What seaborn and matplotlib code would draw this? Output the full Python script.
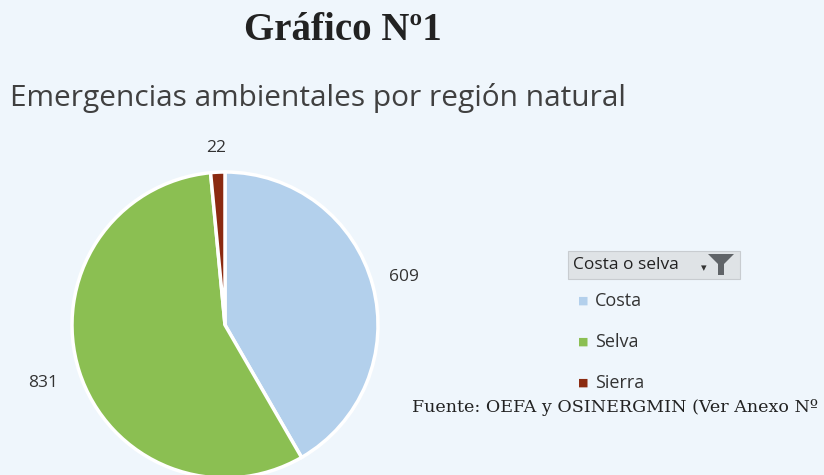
import numpy as np
import seaborn as sns
import matplotlib.pyplot as plt
from matplotlib.patches import FancyBboxPatch, Polygon

regiones = ['Costa', 'Selva', 'Sierra']
emergencias = [609, 831, 22]
colores = ['#b3d0ec', '#8bbf52', '#8b2a10']

titulo = 'Gráfico Nº1'
subtitulo = 'Emergencias ambientales por región natural'
filtro = 'Costa o selva'
fuente = 'Fuente: OEFA y OSINERGMIN (Ver Anexo Nº'

sns.set_theme(style='white')
plt.rcParams['font.family'] = ['Open Sans', 'DejaVu Sans']
bg = '#eff6fc'

W, H = 824, 475
fig = plt.figure(figsize=(W / 100, H / 100), dpi=100, facecolor=bg)

# pie axes placed in pixels: centre (225, 325 from top), radius 153
cx, cy, r = 225, H - 325, 153
ax = fig.add_axes([(cx - r) / W, (cy - r) / H, 2 * r / W, 2 * r / H])
ax.set_facecolor(bg)
wedges, _ = ax.pie(emergencias, colors=colores, startangle=90, counterclock=False,
                   radius=1, wedgeprops=dict(edgecolor='white', linewidth=2.5))
ax.set_xlim(-1, 1)
ax.set_ylim(-1, 1)
ax.set_aspect('equal')
ax.axis('off')

dists = [1.21, 1.25, 1.16]
for w, val, d in zip(wedges, emergencias, dists):
    ang = np.deg2rad((w.theta1 + w.theta2) / 2)
    ax.text(d * np.cos(ang), d * np.sin(ang), str(val), ha='center', va='center',
            fontsize=12.5, color='#333333', family=['Open Sans', 'DejaVu Sans'])

fig.text(343 / W, 1 - 30 / H, titulo, ha='center', va='center', fontsize=28,
         fontweight='bold', family=['Liberation Serif', 'DejaVu Serif'], color='#222222')
fig.text(10 / W, 1 - 98 / H, subtitulo, ha='left', va='center', fontsize=21.5,
         color='#404040')

# legend header with filter button
hdr = FancyBboxPatch((568 / W, 1 - 279 / H), 172 / W, 28 / H,
                     boxstyle='square,pad=0', transform=fig.transFigure,
                     facecolor='#dfe3e6', edgecolor='#c8ccd0', linewidth=0.8)
fig.patches.append(hdr)
fig.text(573 / W, 1 - 265 / H, filtro, ha='left', va='center', fontsize=12.5,
         color='#222222')
fig.text(704 / W, 1 - 268 / H, '▾', ha='center', va='center', fontsize=8,
         color='#333333', family='DejaVu Sans')
funnel = Polygon([(708 / W, 1 - 254 / H), (734 / W, 1 - 254 / H), (724 / W, 1 - 264 / H),
                  (724 / W, 1 - 275 / H), (718 / W, 1 - 275 / H), (718 / W, 1 - 264 / H)],
                 closed=True, transform=fig.transFigure, facecolor='#606468',
                 edgecolor='none')
fig.patches.append(funnel)

for i, (reg, col) in enumerate(zip(regiones, colores)):
    y = 1 - (301 + 41 * i) / H
    fig.text(583 / W, y, '■', ha='center', va='center', fontsize=8, color=col,
             family='DejaVu Sans')
    fig.text(595 / W, y, reg, ha='left', va='center', fontsize=13, color='#333333')

fig.text(412 / W, 1 - 408 / H, fuente, ha='left', va='center', fontsize=12.6,
         family=['DejaVu Serif'], color='#222222')

fig.savefig('out.png', dpi=100, facecolor=bg)
